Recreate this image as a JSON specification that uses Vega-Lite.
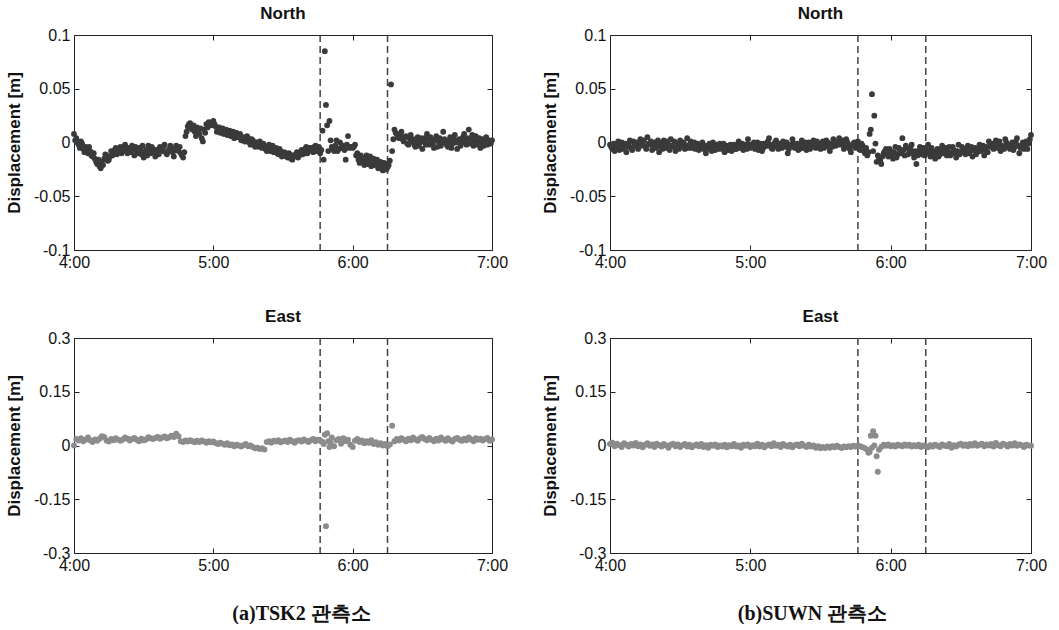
{
"$schema":"https://vega.github.io/schema/vega-lite/v6.json",
"background":"white",
"padding":{"left":5,"top":4,"right":10,"bottom":0},
"datasets":{
"events":[{"m":106},{"m":135}],
"tn":[{"m":0,"v":0.008},{"m":1,"v":0.004},{"m":2,"v":-0.002},{"m":3,"v":0.001},{"m":4,"v":-0.006},{"m":5,"v":-0.004},{"m":6,"v":-0.010},{"m":7,"v":-0.008},{"m":8,"v":-0.013},{"m":9,"v":-0.015},{"m":10,"v":-0.020},{"m":11,"v":-0.022},{"m":12,"v":-0.018},{"m":13,"v":-0.015},{"m":14,"v":-0.012},{"m":15,"v":-0.016},{"m":16,"v":-0.008},{"m":17,"v":-0.011},{"m":18,"v":-0.005},{"m":19,"v":-0.009},{"m":20,"v":-0.004},{"m":21,"v":-0.007},{"m":22,"v":-0.002},{"m":23,"v":-0.010},{"m":24,"v":-0.006},{"m":25,"v":-0.003},{"m":26,"v":-0.012},{"m":27,"v":-0.008},{"m":28,"v":-0.005},{"m":29,"v":-0.011},{"m":30,"v":-0.014},{"m":31,"v":-0.007},{"m":32,"v":-0.003},{"m":33,"v":-0.010},{"m":34,"v":-0.006},{"m":35,"v":-0.013},{"m":36,"v":-0.009},{"m":37,"v":-0.004},{"m":38,"v":-0.008},{"m":39,"v":-0.002},{"m":40,"v":-0.011},{"m":41,"v":-0.006},{"m":42,"v":-0.005},{"m":43,"v":-0.013},{"m":44,"v":-0.003},{"m":45,"v":-0.008},{"m":46,"v":-0.010},{"m":47,"v":-0.014},{"m":48,"v":0.006},{"m":49,"v":0.015},{"m":50,"v":0.018},{"m":51,"v":0.012},{"m":52,"v":0.010},{"m":53,"v":0.014},{"m":54,"v":0.008},{"m":55,"v":0.004},{"m":56,"v":0.012},{"m":57,"v":0.017},{"m":58,"v":0.019},{"m":59,"v":0.016},{"m":60,"v":0.020},{"m":61,"v":0.015},{"m":62,"v":0.012},{"m":63,"v":0.009},{"m":64,"v":0.013},{"m":65,"v":0.010},{"m":66,"v":0.007},{"m":67,"v":0.011},{"m":68,"v":0.008},{"m":69,"v":0.004},{"m":70,"v":0.009},{"m":71,"v":0.006},{"m":72,"v":0.002},{"m":73,"v":0.005},{"m":74,"v":0.001},{"m":75,"v":0.004},{"m":76,"v":-0.002},{"m":77,"v":0.002},{"m":78,"v":-0.004},{"m":79,"v":-0.001},{"m":80,"v":0.001},{"m":81,"v":-0.005},{"m":82,"v":-0.003},{"m":83,"v":-0.008},{"m":84,"v":-0.002},{"m":85,"v":-0.006},{"m":86,"v":-0.009},{"m":87,"v":-0.005},{"m":88,"v":-0.011},{"m":89,"v":-0.008},{"m":90,"v":-0.012},{"m":91,"v":-0.010},{"m":92,"v":-0.014},{"m":93,"v":-0.011},{"m":94,"v":-0.016},{"m":95,"v":-0.013},{"m":96,"v":-0.009},{"m":97,"v":-0.012},{"m":98,"v":-0.007},{"m":99,"v":-0.010},{"m":100,"v":-0.004},{"m":101,"v":-0.008},{"m":102,"v":-0.005},{"m":103,"v":-0.009},{"m":104,"v":-0.003},{"m":105,"v":-0.006},{"m":106,"v":-0.010},{"m":107,"v":0.011},{"m":107.5,"v":-0.016},{"m":108,"v":0.085},{"m":108.5,"v":0.035},{"m":109,"v":0.016},{"m":109.5,"v":-0.008},{"m":110,"v":0.020},{"m":111,"v":-0.004},{"m":112,"v":-0.008},{"m":113,"v":0.002},{"m":114,"v":-0.006},{"m":115,"v":-0.005},{"m":116,"v":-0.003},{"m":117,"v":-0.016},{"m":118,"v":0.006},{"m":119,"v":-0.004},{"m":120,"v":-0.005},{"m":121,"v":-0.002},{"m":122,"v":-0.010},{"m":123,"v":-0.019},{"m":124,"v":-0.014},{"m":125,"v":-0.021},{"m":126,"v":-0.012},{"m":127,"v":-0.017},{"m":128,"v":-0.022},{"m":129,"v":-0.015},{"m":130,"v":-0.019},{"m":131,"v":-0.024},{"m":132,"v":-0.018},{"m":133,"v":-0.026},{"m":134,"v":-0.020},{"m":135,"v":-0.023},{"m":136,"v":-0.017},{"m":136.5,"v":0.054},{"m":137,"v":-0.008},{"m":137.5,"v":0.003},{"m":138,"v":0.012},{"m":139,"v":0.008},{"m":140,"v":0.004},{"m":141,"v":0.010},{"m":142,"v":0.001},{"m":143,"v":0.006},{"m":144,"v":-0.002},{"m":145,"v":0.007},{"m":146,"v":0.003},{"m":147,"v":-0.004},{"m":148,"v":0.005},{"m":149,"v":0.000},{"m":150,"v":-0.006},{"m":151,"v":0.004},{"m":152,"v":0.008},{"m":153,"v":-0.002},{"m":154,"v":0.003},{"m":155,"v":-0.005},{"m":156,"v":0.006},{"m":157,"v":0.001},{"m":158,"v":-0.003},{"m":159,"v":0.010},{"m":160,"v":0.002},{"m":161,"v":-0.004},{"m":162,"v":0.005},{"m":163,"v":-0.001},{"m":164,"v":0.007},{"m":165,"v":-0.006},{"m":166,"v":0.003},{"m":167,"v":0.000},{"m":168,"v":0.008},{"m":169,"v":-0.002},{"m":170,"v":0.012},{"m":171,"v":0.004},{"m":172,"v":-0.003},{"m":173,"v":0.006},{"m":174,"v":0.001},{"m":175,"v":-0.005},{"m":176,"v":0.003},{"m":177,"v":0.000},{"m":178,"v":-0.002},{"m":179,"v":0.002},{"m":180,"v":0.002},
{"m":0.5,"v":0.002},{"m":1.5,"v":0.000},{"m":2.5,"v":-0.005},{"m":3.5,"v":-0.001},{"m":4.5,"v":-0.009},{"m":5.5,"v":-0.007},{"m":6.5,"v":-0.004},{"m":7.5,"v":-0.012},{"m":8.5,"v":-0.010},{"m":9.5,"v":-0.018},{"m":10.5,"v":-0.016},{"m":11.5,"v":-0.024},{"m":12.5,"v":-0.021},{"m":13.5,"v":-0.011},{"m":14.5,"v":-0.017},{"m":15.5,"v":-0.013},{"m":16.5,"v":-0.012},{"m":17.5,"v":-0.007},{"m":18.5,"v":-0.011},{"m":19.5,"v":-0.006},{"m":20.5,"v":-0.010},{"m":21.5,"v":-0.004},{"m":22.5,"v":-0.008},{"m":23.5,"v":-0.005},{"m":24.5,"v":-0.009},{"m":25.5,"v":-0.006},{"m":26.5,"v":-0.004},{"m":27.5,"v":-0.010},{"m":28.5,"v":-0.007},{"m":29.5,"v":-0.003},{"m":30.5,"v":-0.009},{"m":31.5,"v":-0.012},{"m":32.5,"v":-0.006},{"m":33.5,"v":-0.004},{"m":34.5,"v":-0.009},{"m":35.5,"v":-0.007},{"m":36.5,"v":-0.011},{"m":37.5,"v":-0.006},{"m":38.5,"v":-0.004},{"m":39.5,"v":-0.009},{"m":40.5,"v":-0.008},{"m":41.5,"v":-0.003},{"m":42.5,"v":-0.009},{"m":43.5,"v":-0.007},{"m":44.5,"v":-0.006},{"m":45.5,"v":-0.004},{"m":46.5,"v":-0.012},{"m":47.5,"v":-0.009},{"m":48.5,"v":0.010},{"m":49.5,"v":0.017},{"m":50.5,"v":0.013},{"m":51.5,"v":0.016},{"m":52.5,"v":0.006},{"m":53.5,"v":0.011},{"m":54.5,"v":0.013},{"m":55.5,"v":0.001},{"m":56.5,"v":0.009},{"m":57.5,"v":0.014},{"m":58.5,"v":0.018},{"m":59.5,"v":0.019},{"m":60.5,"v":0.017},{"m":61.5,"v":0.010},{"m":62.5,"v":0.014},{"m":63.5,"v":0.011},{"m":64.5,"v":0.008},{"m":65.5,"v":0.012},{"m":66.5,"v":0.009},{"m":67.5,"v":0.006},{"m":68.5,"v":0.010},{"m":69.5,"v":0.007},{"m":70.5,"v":0.005},{"m":71.5,"v":0.008},{"m":72.5,"v":0.004},{"m":73.5,"v":0.001},{"m":74.5,"v":0.006},{"m":75.5,"v":0.000},{"m":76.5,"v":0.003},{"m":77.5,"v":-0.002},{"m":78.5,"v":0.000},{"m":79.5,"v":-0.004},{"m":80.5,"v":-0.003},{"m":81.5,"v":-0.001},{"m":82.5,"v":-0.006},{"m":83.5,"v":-0.004},{"m":84.5,"v":-0.008},{"m":85.5,"v":-0.003},{"m":86.5,"v":-0.007},{"m":87.5,"v":-0.010},{"m":88.5,"v":-0.006},{"m":89.5,"v":-0.013},{"m":90.5,"v":-0.009},{"m":91.5,"v":-0.013},{"m":92.5,"v":-0.010},{"m":93.5,"v":-0.015},{"m":94.5,"v":-0.012},{"m":95.5,"v":-0.011},{"m":96.5,"v":-0.014},{"m":97.5,"v":-0.009},{"m":98.5,"v":-0.011},{"m":99.5,"v":-0.006},{"m":100.5,"v":-0.010},{"m":101.5,"v":-0.005},{"m":102.5,"v":-0.007},{"m":103.5,"v":-0.004},{"m":104.5,"v":-0.008},{"m":105.5,"v":-0.004},{"m":106.5,"v":-0.007},{"m":110.5,"v":0.002},{"m":111.5,"v":-0.006},{"m":112.5,"v":-0.003},{"m":113.5,"v":-0.008},{"m":114.5,"v":0.000},{"m":115.5,"v":-0.004},{"m":116.5,"v":-0.007},{"m":117.5,"v":-0.002},{"m":118.5,"v":-0.005},{"m":119.5,"v":-0.004},{"m":120.5,"v":-0.004},{"m":121.5,"v":-0.012},{"m":122.5,"v":-0.016},{"m":123.5,"v":-0.012},{"m":124.5,"v":-0.018},{"m":125.5,"v":-0.015},{"m":126.5,"v":-0.020},{"m":127.5,"v":-0.013},{"m":128.5,"v":-0.019},{"m":129.5,"v":-0.021},{"m":130.5,"v":-0.016},{"m":131.5,"v":-0.020},{"m":132.5,"v":-0.023},{"m":133.5,"v":-0.019},{"m":134.5,"v":-0.025},{"m":135.5,"v":-0.021},{"m":138.5,"v":0.009},{"m":139.5,"v":0.005},{"m":140.5,"v":0.007},{"m":141.5,"v":0.003},{"m":142.5,"v":0.005},{"m":143.5,"v":-0.001},{"m":144.5,"v":0.004},{"m":145.5,"v":0.001},{"m":146.5,"v":-0.002},{"m":147.5,"v":0.002},{"m":148.5,"v":-0.003},{"m":149.5,"v":0.004},{"m":150.5,"v":0.001},{"m":151.5,"v":-0.002},{"m":152.5,"v":0.003},{"m":153.5,"v":0.005},{"m":154.5,"v":-0.001},{"m":155.5,"v":0.002},{"m":156.5,"v":-0.004},{"m":157.5,"v":0.004},{"m":158.5,"v":0.000},{"m":159.5,"v":0.003},{"m":160.5,"v":-0.002},{"m":161.5,"v":0.001},{"m":162.5,"v":-0.005},{"m":163.5,"v":0.003},{"m":164.5,"v":0.000},{"m":165.5,"v":0.002},{"m":166.5,"v":-0.003},{"m":167.5,"v":0.005},{"m":168.5,"v":0.001},{"m":169.5,"v":0.004},{"m":170.5,"v":-0.001},{"m":171.5,"v":0.007},{"m":172.5,"v":0.001},{"m":173.5,"v":-0.002},{"m":174.5,"v":0.004},{"m":175.5,"v":0.000},{"m":176.5,"v":-0.003},{"m":177.5,"v":0.005},{"m":178.5,"v":0.001},{"m":179.5,"v":-0.001}],
"sn":[{"m":0,"v":-0.002},{"m":1,"v":-0.006},{"m":2,"v":-0.008},{"m":3,"v":-0.003},{"m":4,"v":-0.007},{"m":5,"v":0.000},{"m":6,"v":-0.004},{"m":7,"v":-0.009},{"m":8,"v":-0.002},{"m":9,"v":-0.005},{"m":10,"v":0.001},{"m":11,"v":-0.003},{"m":12,"v":-0.006},{"m":13,"v":0.003},{"m":14,"v":-0.001},{"m":15,"v":-0.004},{"m":16,"v":0.005},{"m":17,"v":-0.002},{"m":18,"v":-0.007},{"m":19,"v":0.000},{"m":20,"v":-0.003},{"m":21,"v":-0.009},{"m":22,"v":-0.001},{"m":23,"v":0.002},{"m":24,"v":-0.005},{"m":25,"v":-0.002},{"m":26,"v":0.003},{"m":27,"v":-0.004},{"m":28,"v":-0.008},{"m":29,"v":-0.001},{"m":30,"v":0.002},{"m":31,"v":-0.003},{"m":32,"v":-0.006},{"m":33,"v":0.004},{"m":34,"v":-0.002},{"m":35,"v":-0.005},{"m":36,"v":0.000},{"m":37,"v":-0.004},{"m":38,"v":-0.007},{"m":39,"v":-0.002},{"m":40,"v":-0.006},{"m":41,"v":-0.010},{"m":42,"v":-0.003},{"m":43,"v":-0.005},{"m":44,"v":0.000},{"m":45,"v":-0.007},{"m":46,"v":-0.004},{"m":47,"v":-0.001},{"m":48,"v":-0.006},{"m":49,"v":-0.009},{"m":50,"v":-0.003},{"m":51,"v":-0.005},{"m":52,"v":-0.008},{"m":53,"v":-0.002},{"m":54,"v":-0.006},{"m":55,"v":0.001},{"m":56,"v":-0.004},{"m":57,"v":-0.007},{"m":58,"v":-0.002},{"m":59,"v":0.003},{"m":60,"v":-0.005},{"m":61,"v":-0.002},{"m":62,"v":-0.006},{"m":63,"v":0.000},{"m":64,"v":-0.004},{"m":65,"v":-0.008},{"m":66,"v":-0.001},{"m":67,"v":-0.003},{"m":68,"v":0.004},{"m":69,"v":-0.005},{"m":70,"v":-0.002},{"m":71,"v":0.002},{"m":72,"v":-0.006},{"m":73,"v":-0.003},{"m":74,"v":0.001},{"m":75,"v":-0.004},{"m":76,"v":-0.010},{"m":77,"v":-0.002},{"m":78,"v":0.003},{"m":79,"v":-0.005},{"m":80,"v":-0.001},{"m":81,"v":-0.006},{"m":82,"v":0.002},{"m":83,"v":-0.003},{"m":84,"v":-0.007},{"m":85,"v":0.000},{"m":86,"v":-0.004},{"m":87,"v":0.002},{"m":88,"v":-0.005},{"m":89,"v":-0.001},{"m":90,"v":-0.006},{"m":91,"v":0.001},{"m":92,"v":-0.003},{"m":93,"v":0.000},{"m":94,"v":-0.008},{"m":95,"v":-0.004},{"m":96,"v":0.001},{"m":97,"v":-0.002},{"m":98,"v":0.004},{"m":99,"v":0.000},{"m":100,"v":-0.006},{"m":101,"v":0.003},{"m":102,"v":-0.004},{"m":103,"v":-0.009},{"m":104,"v":-0.001},{"m":105,"v":-0.005},{"m":106,"v":0.001},{"m":107,"v":-0.007},{"m":108,"v":-0.003},{"m":109,"v":-0.010},{"m":110,"v":-0.012},{"m":111,"v":0.008},{"m":111.5,"v":0.012},{"m":112,"v":0.045},{"m":112.5,"v":-0.008},{"m":113,"v":0.025},{"m":113.5,"v":-0.001},{"m":114,"v":-0.018},{"m":115,"v":-0.014},{"m":116,"v":-0.020},{"m":117,"v":-0.010},{"m":118,"v":-0.006},{"m":119,"v":-0.013},{"m":120,"v":-0.008},{"m":121,"v":-0.015},{"m":122,"v":-0.004},{"m":123,"v":-0.011},{"m":124,"v":-0.007},{"m":125,"v":0.004},{"m":126,"v":-0.012},{"m":127,"v":-0.005},{"m":128,"v":-0.009},{"m":129,"v":-0.002},{"m":130,"v":-0.014},{"m":131,"v":-0.020},{"m":132,"v":-0.008},{"m":133,"v":-0.011},{"m":134,"v":-0.005},{"m":135,"v":-0.010},{"m":136,"v":-0.002},{"m":137,"v":-0.013},{"m":138,"v":-0.008},{"m":139,"v":-0.015},{"m":140,"v":-0.006},{"m":141,"v":-0.011},{"m":142,"v":-0.003},{"m":143,"v":-0.009},{"m":144,"v":-0.012},{"m":145,"v":-0.004},{"m":146,"v":-0.010},{"m":147,"v":-0.007},{"m":148,"v":-0.014},{"m":149,"v":-0.002},{"m":150,"v":-0.009},{"m":151,"v":-0.006},{"m":152,"v":-0.011},{"m":153,"v":-0.003},{"m":154,"v":-0.008},{"m":155,"v":-0.013},{"m":156,"v":-0.005},{"m":157,"v":-0.009},{"m":158,"v":-0.002},{"m":159,"v":-0.007},{"m":160,"v":-0.012},{"m":161,"v":-0.004},{"m":162,"v":0.001},{"m":163,"v":-0.003},{"m":164,"v":-0.006},{"m":165,"v":0.002},{"m":166,"v":-0.001},{"m":167,"v":-0.008},{"m":168,"v":-0.004},{"m":169,"v":0.003},{"m":170,"v":-0.002},{"m":171,"v":-0.006},{"m":172,"v":0.000},{"m":173,"v":-0.004},{"m":174,"v":0.004},{"m":175,"v":-0.010},{"m":176,"v":-0.003},{"m":177,"v":-0.006},{"m":178,"v":0.001},{"m":179,"v":-0.001},{"m":180,"v":0.007},
{"m":0.5,"v":-0.004},{"m":1.5,"v":-0.001},{"m":2.5,"v":-0.005},{"m":3.5,"v":0.001},{"m":4.5,"v":-0.003},{"m":5.5,"v":-0.006},{"m":6.5,"v":-0.001},{"m":7.5,"v":-0.004},{"m":8.5,"v":0.002},{"m":9.5,"v":-0.007},{"m":10.5,"v":-0.002},{"m":11.5,"v":0.000},{"m":12.5,"v":-0.004},{"m":13.5,"v":-0.002},{"m":14.5,"v":0.002},{"m":15.5,"v":-0.006},{"m":16.5,"v":-0.001},{"m":17.5,"v":0.001},{"m":18.5,"v":-0.003},{"m":19.5,"v":-0.005},{"m":20.5,"v":0.002},{"m":21.5,"v":-0.004},{"m":22.5,"v":-0.006},{"m":23.5,"v":-0.002},{"m":24.5,"v":0.001},{"m":25.5,"v":-0.007},{"m":26.5,"v":-0.003},{"m":27.5,"v":0.001},{"m":28.5,"v":-0.004},{"m":29.5,"v":-0.006},{"m":30.5,"v":-0.002},{"m":31.5,"v":0.000},{"m":32.5,"v":-0.003},{"m":33.5,"v":-0.005},{"m":34.5,"v":0.001},{"m":35.5,"v":-0.002},{"m":36.5,"v":-0.006},{"m":37.5,"v":-0.001},{"m":38.5,"v":-0.004},{"m":39.5,"v":0.000},{"m":40.5,"v":-0.003},{"m":41.5,"v":-0.006},{"m":42.5,"v":-0.001},{"m":43.5,"v":-0.008},{"m":44.5,"v":-0.004},{"m":45.5,"v":-0.002},{"m":46.5,"v":-0.006},{"m":47.5,"v":-0.003},{"m":48.5,"v":-0.001},{"m":49.5,"v":-0.005},{"m":50.5,"v":-0.007},{"m":51.5,"v":-0.002},{"m":52.5,"v":-0.004},{"m":53.5,"v":-0.006},{"m":54.5,"v":-0.003},{"m":55.5,"v":-0.005},{"m":56.5,"v":-0.001},{"m":57.5,"v":-0.004},{"m":58.5,"v":-0.006},{"m":59.5,"v":-0.002},{"m":60.5,"v":-0.003},{"m":61.5,"v":0.000},{"m":62.5,"v":-0.004},{"m":63.5,"v":-0.007},{"m":64.5,"v":-0.001},{"m":65.5,"v":-0.005},{"m":66.5,"v":-0.003},{"m":67.5,"v":0.001},{"m":68.5,"v":-0.002},{"m":69.5,"v":-0.006},{"m":70.5,"v":0.000},{"m":71.5,"v":-0.004},{"m":72.5,"v":-0.001},{"m":73.5,"v":-0.005},{"m":74.5,"v":-0.002},{"m":75.5,"v":0.000},{"m":76.5,"v":-0.006},{"m":77.5,"v":-0.003},{"m":78.5,"v":-0.001},{"m":79.5,"v":-0.004},{"m":80.5,"v":-0.007},{"m":81.5,"v":-0.002},{"m":82.5,"v":-0.005},{"m":83.5,"v":0.000},{"m":84.5,"v":-0.003},{"m":85.5,"v":-0.006},{"m":86.5,"v":-0.001},{"m":87.5,"v":-0.004},{"m":88.5,"v":0.001},{"m":89.5,"v":-0.003},{"m":90.5,"v":-0.002},{"m":91.5,"v":-0.005},{"m":92.5,"v":0.002},{"m":93.5,"v":-0.004},{"m":94.5,"v":-0.001},{"m":95.5,"v":0.003},{"m":96.5,"v":-0.003},{"m":97.5,"v":0.000},{"m":98.5,"v":-0.002},{"m":99.5,"v":0.002},{"m":100.5,"v":-0.003},{"m":101.5,"v":0.000},{"m":102.5,"v":-0.006},{"m":103.5,"v":-0.003},{"m":104.5,"v":0.000},{"m":105.5,"v":-0.002},{"m":106.5,"v":-0.004},{"m":107.5,"v":-0.001},{"m":108.5,"v":-0.008},{"m":109.5,"v":-0.005},{"m":110.5,"v":-0.009},{"m":114.5,"v":-0.012},{"m":115.5,"v":-0.017},{"m":116.5,"v":-0.013},{"m":117.5,"v":-0.008},{"m":118.5,"v":-0.011},{"m":119.5,"v":-0.006},{"m":120.5,"v":-0.012},{"m":121.5,"v":-0.009},{"m":122.5,"v":-0.014},{"m":123.5,"v":-0.005},{"m":124.5,"v":-0.010},{"m":125.5,"v":-0.007},{"m":126.5,"v":-0.003},{"m":127.5,"v":-0.011},{"m":128.5,"v":-0.006},{"m":129.5,"v":-0.010},{"m":130.5,"v":-0.008},{"m":131.5,"v":-0.012},{"m":132.5,"v":-0.004},{"m":133.5,"v":-0.008},{"m":134.5,"v":-0.012},{"m":135.5,"v":-0.007},{"m":136.5,"v":-0.010},{"m":137.5,"v":-0.005},{"m":138.5,"v":-0.012},{"m":139.5,"v":-0.009},{"m":140.5,"v":-0.013},{"m":141.5,"v":-0.007},{"m":142.5,"v":-0.010},{"m":143.5,"v":-0.005},{"m":144.5,"v":-0.008},{"m":145.5,"v":-0.012},{"m":146.5,"v":-0.004},{"m":147.5,"v":-0.010},{"m":148.5,"v":-0.008},{"m":149.5,"v":-0.011},{"m":150.5,"v":-0.004},{"m":151.5,"v":-0.009},{"m":152.5,"v":-0.006},{"m":153.5,"v":-0.010},{"m":154.5,"v":-0.004},{"m":155.5,"v":-0.007},{"m":156.5,"v":-0.011},{"m":157.5,"v":-0.005},{"m":158.5,"v":-0.008},{"m":159.5,"v":-0.003},{"m":160.5,"v":-0.007},{"m":161.5,"v":-0.009},{"m":162.5,"v":-0.004},{"m":163.5,"v":-0.001},{"m":164.5,"v":-0.002},{"m":165.5,"v":-0.005},{"m":166.5,"v":0.001},{"m":167.5,"v":-0.003},{"m":168.5,"v":-0.006},{"m":169.5,"v":0.000},{"m":170.5,"v":-0.004},{"m":171.5,"v":-0.002},{"m":172.5,"v":-0.007},{"m":173.5,"v":0.001},{"m":174.5,"v":-0.003},{"m":175.5,"v":-0.005},{"m":176.5,"v":0.000},{"m":177.5,"v":-0.003},{"m":178.5,"v":-0.006},{"m":179.5,"v":0.003}],
"te":[{"m":0,"v":0.000},{"m":1,"v":0.018},{"m":2,"v":0.014},{"m":3,"v":0.020},{"m":4,"v":0.012},{"m":5,"v":0.016},{"m":6,"v":0.022},{"m":7,"v":0.015},{"m":8,"v":0.010},{"m":9,"v":0.017},{"m":10,"v":0.013},{"m":11,"v":0.019},{"m":12,"v":0.026},{"m":13,"v":0.024},{"m":14,"v":0.014},{"m":15,"v":0.011},{"m":16,"v":0.018},{"m":17,"v":0.015},{"m":18,"v":0.020},{"m":19,"v":0.016},{"m":20,"v":0.013},{"m":21,"v":0.017},{"m":22,"v":0.022},{"m":23,"v":0.019},{"m":24,"v":0.014},{"m":25,"v":0.018},{"m":26,"v":0.021},{"m":27,"v":0.016},{"m":28,"v":0.012},{"m":29,"v":0.019},{"m":30,"v":0.015},{"m":31,"v":0.017},{"m":32,"v":0.023},{"m":33,"v":0.020},{"m":34,"v":0.018},{"m":35,"v":0.021},{"m":36,"v":0.024},{"m":37,"v":0.019},{"m":38,"v":0.022},{"m":39,"v":0.025},{"m":40,"v":0.020},{"m":41,"v":0.023},{"m":42,"v":0.027},{"m":43,"v":0.024},{"m":44,"v":0.033},{"m":45,"v":0.026},{"m":46,"v":0.012},{"m":47,"v":0.010},{"m":48,"v":0.014},{"m":49,"v":0.011},{"m":50,"v":0.015},{"m":51,"v":0.012},{"m":52,"v":0.009},{"m":53,"v":0.013},{"m":54,"v":0.010},{"m":55,"v":0.014},{"m":56,"v":0.011},{"m":57,"v":0.008},{"m":58,"v":0.012},{"m":59,"v":0.009},{"m":60,"v":0.011},{"m":61,"v":0.007},{"m":62,"v":0.004},{"m":63,"v":0.008},{"m":64,"v":0.005},{"m":65,"v":0.002},{"m":66,"v":0.006},{"m":67,"v":0.001},{"m":68,"v":0.003},{"m":69,"v":-0.002},{"m":70,"v":0.002},{"m":71,"v":0.000},{"m":72,"v":-0.003},{"m":73,"v":0.001},{"m":74,"v":0.004},{"m":75,"v":-0.002},{"m":76,"v":0.000},{"m":77,"v":-0.004},{"m":78,"v":-0.008},{"m":79,"v":-0.006},{"m":80,"v":-0.010},{"m":81,"v":-0.008},{"m":82,"v":-0.011},{"m":83,"v":0.010},{"m":84,"v":0.012},{"m":85,"v":0.008},{"m":86,"v":0.013},{"m":87,"v":0.011},{"m":88,"v":0.015},{"m":89,"v":0.009},{"m":90,"v":0.012},{"m":91,"v":0.014},{"m":92,"v":0.010},{"m":93,"v":0.016},{"m":94,"v":0.012},{"m":95,"v":0.008},{"m":96,"v":0.013},{"m":97,"v":0.015},{"m":98,"v":0.011},{"m":99,"v":0.017},{"m":100,"v":0.013},{"m":101,"v":0.010},{"m":102,"v":0.015},{"m":103,"v":0.018},{"m":104,"v":0.012},{"m":105,"v":0.016},{"m":106,"v":0.014},{"m":107,"v":0.010},{"m":107.5,"v":0.004},{"m":108,"v":0.030},{"m":108.5,"v":-0.225},{"m":109,"v":0.034},{"m":109.5,"v":0.012},{"m":110,"v":-0.004},{"m":110.5,"v":0.008},{"m":111,"v":0.022},{"m":112,"v":-0.002},{"m":113,"v":0.015},{"m":114,"v":0.018},{"m":115,"v":0.005},{"m":116,"v":0.020},{"m":117,"v":0.012},{"m":118,"v":0.016},{"m":119,"v":0.002},{"m":120,"v":-0.004},{"m":121,"v":0.013},{"m":122,"v":0.018},{"m":123,"v":0.010},{"m":124,"v":0.014},{"m":125,"v":0.006},{"m":126,"v":0.012},{"m":127,"v":0.008},{"m":128,"v":0.015},{"m":129,"v":0.004},{"m":130,"v":0.009},{"m":131,"v":0.002},{"m":132,"v":0.006},{"m":133,"v":0.000},{"m":134,"v":0.004},{"m":135,"v":-0.002},{"m":136,"v":0.003},{"m":137,"v":0.055},{"m":138,"v":0.012},{"m":139,"v":0.018},{"m":140,"v":0.014},{"m":141,"v":0.020},{"m":142,"v":0.016},{"m":143,"v":0.012},{"m":144,"v":0.019},{"m":145,"v":0.015},{"m":146,"v":0.022},{"m":147,"v":0.017},{"m":148,"v":0.013},{"m":149,"v":0.020},{"m":150,"v":0.024},{"m":151,"v":0.018},{"m":152,"v":0.015},{"m":153,"v":0.021},{"m":154,"v":0.016},{"m":155,"v":0.012},{"m":156,"v":0.019},{"m":157,"v":0.014},{"m":158,"v":0.022},{"m":159,"v":0.017},{"m":160,"v":0.013},{"m":161,"v":0.020},{"m":162,"v":0.015},{"m":163,"v":0.011},{"m":164,"v":0.018},{"m":165,"v":0.021},{"m":166,"v":0.016},{"m":167,"v":0.013},{"m":168,"v":0.019},{"m":169,"v":0.015},{"m":170,"v":0.022},{"m":171,"v":0.017},{"m":172,"v":0.012},{"m":173,"v":0.020},{"m":174,"v":0.016},{"m":175,"v":0.019},{"m":176,"v":0.014},{"m":177,"v":0.018},{"m":178,"v":0.021},{"m":179,"v":0.013},{"m":180,"v":0.017}],
"se":[{"m":0,"v":0.004},{"m":1,"v":0.008},{"m":2,"v":-0.002},{"m":3,"v":0.005},{"m":4,"v":0.001},{"m":5,"v":-0.004},{"m":6,"v":0.006},{"m":7,"v":0.002},{"m":8,"v":-0.003},{"m":9,"v":0.004},{"m":10,"v":0.000},{"m":11,"v":0.007},{"m":12,"v":-0.002},{"m":13,"v":0.003},{"m":14,"v":-0.005},{"m":15,"v":0.002},{"m":16,"v":0.006},{"m":17,"v":-0.001},{"m":18,"v":0.003},{"m":19,"v":-0.004},{"m":20,"v":0.005},{"m":21,"v":0.001},{"m":22,"v":-0.003},{"m":23,"v":0.004},{"m":24,"v":0.000},{"m":25,"v":-0.006},{"m":26,"v":0.002},{"m":27,"v":0.005},{"m":28,"v":-0.002},{"m":29,"v":0.003},{"m":30,"v":-0.004},{"m":31,"v":0.001},{"m":32,"v":0.004},{"m":33,"v":-0.003},{"m":34,"v":0.002},{"m":35,"v":-0.005},{"m":36,"v":0.000},{"m":37,"v":0.003},{"m":38,"v":-0.002},{"m":39,"v":0.004},{"m":40,"v":-0.004},{"m":41,"v":0.001},{"m":42,"v":-0.006},{"m":43,"v":0.002},{"m":44,"v":-0.001},{"m":45,"v":0.003},{"m":46,"v":-0.004},{"m":47,"v":0.000},{"m":48,"v":-0.003},{"m":49,"v":0.002},{"m":50,"v":-0.005},{"m":51,"v":0.001},{"m":52,"v":-0.002},{"m":53,"v":0.004},{"m":54,"v":-0.003},{"m":55,"v":0.000},{"m":56,"v":-0.006},{"m":57,"v":0.002},{"m":58,"v":-0.001},{"m":59,"v":0.003},{"m":60,"v":-0.004},{"m":61,"v":0.001},{"m":62,"v":-0.002},{"m":63,"v":0.005},{"m":64,"v":-0.003},{"m":65,"v":0.002},{"m":66,"v":-0.005},{"m":67,"v":0.000},{"m":68,"v":0.003},{"m":69,"v":-0.002},{"m":70,"v":0.006},{"m":71,"v":-0.001},{"m":72,"v":0.002},{"m":73,"v":-0.004},{"m":74,"v":0.004},{"m":75,"v":0.000},{"m":76,"v":-0.003},{"m":77,"v":0.002},{"m":78,"v":-0.005},{"m":79,"v":0.001},{"m":80,"v":0.003},{"m":81,"v":-0.002},{"m":82,"v":0.005},{"m":83,"v":-0.001},{"m":84,"v":-0.004},{"m":85,"v":0.002},{"m":86,"v":-0.003},{"m":87,"v":0.000},{"m":88,"v":-0.006},{"m":89,"v":-0.002},{"m":90,"v":-0.008},{"m":91,"v":-0.004},{"m":92,"v":-0.007},{"m":93,"v":-0.003},{"m":94,"v":-0.006},{"m":95,"v":-0.002},{"m":96,"v":-0.005},{"m":97,"v":-0.001},{"m":98,"v":-0.004},{"m":99,"v":-0.007},{"m":100,"v":-0.003},{"m":101,"v":-0.005},{"m":102,"v":-0.002},{"m":103,"v":-0.004},{"m":104,"v":-0.001},{"m":105,"v":-0.003},{"m":106,"v":0.000},{"m":107,"v":-0.002},{"m":108,"v":-0.005},{"m":109,"v":-0.008},{"m":110,"v":-0.012},{"m":110.5,"v":-0.020},{"m":111,"v":-0.018},{"m":111.5,"v":0.027},{"m":112,"v":-0.006},{"m":112.5,"v":0.040},{"m":113,"v":0.000},{"m":113.5,"v":0.027},{"m":114,"v":-0.030},{"m":114.5,"v":-0.073},{"m":115,"v":-0.012},{"m":116,"v":-0.004},{"m":117,"v":0.002},{"m":118,"v":-0.001},{"m":119,"v":0.003},{"m":120,"v":-0.002},{"m":121,"v":0.001},{"m":122,"v":-0.003},{"m":123,"v":0.002},{"m":124,"v":0.000},{"m":125,"v":-0.002},{"m":126,"v":0.003},{"m":127,"v":-0.001},{"m":128,"v":0.002},{"m":129,"v":-0.003},{"m":130,"v":0.001},{"m":131,"v":-0.002},{"m":132,"v":0.002},{"m":133,"v":-0.004},{"m":134,"v":0.000},{"m":135,"v":-0.002},{"m":136,"v":-0.005},{"m":137,"v":0.001},{"m":138,"v":-0.003},{"m":139,"v":0.002},{"m":140,"v":-0.001},{"m":141,"v":-0.004},{"m":142,"v":0.003},{"m":143,"v":0.000},{"m":144,"v":-0.002},{"m":145,"v":0.004},{"m":146,"v":-0.006},{"m":147,"v":0.001},{"m":148,"v":-0.003},{"m":149,"v":0.002},{"m":150,"v":0.005},{"m":151,"v":-0.001},{"m":152,"v":0.003},{"m":153,"v":-0.002},{"m":154,"v":0.004},{"m":155,"v":0.000},{"m":156,"v":0.006},{"m":157,"v":-0.001},{"m":158,"v":0.002},{"m":159,"v":0.005},{"m":160,"v":-0.002},{"m":161,"v":0.003},{"m":162,"v":0.000},{"m":163,"v":0.004},{"m":164,"v":-0.003},{"m":165,"v":0.007},{"m":166,"v":0.001},{"m":167,"v":-0.002},{"m":168,"v":0.005},{"m":169,"v":0.002},{"m":170,"v":-0.003},{"m":171,"v":0.004},{"m":172,"v":0.000},{"m":173,"v":0.006},{"m":174,"v":-0.001},{"m":175,"v":0.003},{"m":176,"v":0.001},{"m":177,"v":-0.004},{"m":178,"v":0.002},{"m":179,"v":0.000},{"m":180,"v":-0.001}]
},
"columns":2,
"spacing":{"row":36,"column":32},
"concat":[
{"width":418,"height":215,"title":{"text":"North","anchor":"middle","fontSize":17,"fontWeight":"bold","font":"Liberation Sans","color":"#111","offset":4},
"layer":[
{"data":{"name":"events"},"mark":{"type":"rule","strokeDash":[7,4],"color":"#444","strokeWidth":1.5},
"encoding":{"x":{"field":"m","type":"quantitative","scale":{"domain":[0,180]},"axis":{"orient":"top","values":[0,60,120,180],"labels":false,"title":null}}}},
{"data":{"name":"tn"},"mark":{"type":"circle","size":34,"color":"#3a3a3a","opacity":1},
"encoding":{"x":{"field":"m","type":"quantitative","scale":{"domain":[0,180]},"axis":{"orient":"bottom","values":[0,60,120,180],"labelExpr":"(4 + datum.value/60) + ':00'","title":null}},
"y":{"field":"v","type":"quantitative","scale":{"domain":[-0.1,0.1]},"axis":{"orient":"left","values":[-0.1,-0.05,0,0.05,0.1],"labelExpr":"'' + datum.value","title":"Displacement [m]"}}}},
{"data":{"name":"tn"},"mark":{"type":"circle","opacity":0},
"encoding":{"y":{"field":"v","type":"quantitative","scale":{"domain":[-0.1,0.1]},"axis":{"orient":"right","values":[-0.1,-0.05,0,0.05,0.1],"labels":false,"title":null}}}}
],
"resolve":{"axis":{"x":"independent","y":"independent"}}},
{"width":421,"height":215,"title":{"text":"North","anchor":"middle","fontSize":17,"fontWeight":"bold","font":"Liberation Sans","color":"#111","offset":4},
"layer":[
{"data":{"name":"events"},"mark":{"type":"rule","strokeDash":[7,4],"color":"#444","strokeWidth":1.5},
"encoding":{"x":{"field":"m","type":"quantitative","scale":{"domain":[0,180]},"axis":{"orient":"top","values":[0,60,120,180],"labels":false,"title":null}}}},
{"data":{"name":"sn"},"mark":{"type":"circle","size":34,"color":"#3a3a3a","opacity":1},
"encoding":{"x":{"field":"m","type":"quantitative","scale":{"domain":[0,180]},"axis":{"orient":"bottom","values":[0,60,120,180],"labelExpr":"(4 + datum.value/60) + ':00'","title":null}},
"y":{"field":"v","type":"quantitative","scale":{"domain":[-0.1,0.1]},"axis":{"orient":"left","values":[-0.1,-0.05,0,0.05,0.1],"labelExpr":"'' + datum.value","title":"Displacement [m]"}}}},
{"data":{"name":"sn"},"mark":{"type":"circle","opacity":0},
"encoding":{"y":{"field":"v","type":"quantitative","scale":{"domain":[-0.1,0.1]},"axis":{"orient":"right","values":[-0.1,-0.05,0,0.05,0.1],"labels":false,"title":null}}}}
],
"resolve":{"axis":{"x":"independent","y":"independent"}}},
{"width":418,"height":215,"title":{"text":"East","anchor":"middle","fontSize":17,"fontWeight":"bold","font":"Liberation Sans","color":"#111","offset":4},
"layer":[
{"data":{"name":"events"},"mark":{"type":"rule","strokeDash":[7,4],"color":"#444","strokeWidth":1.5},
"encoding":{"x":{"field":"m","type":"quantitative","scale":{"domain":[0,180]},"axis":{"orient":"top","values":[0,60,120,180],"labels":false,"title":null}}}},
{"data":{"name":"te"},"mark":{"type":"circle","size":36,"color":"#8c8c8c","opacity":1},
"encoding":{"x":{"field":"m","type":"quantitative","scale":{"domain":[0,180]},"axis":{"orient":"bottom","values":[0,60,120,180],"labelExpr":"(4 + datum.value/60) + ':00'","title":"(a)TSK2 관측소","titleFont":"Liberation Serif","titleFontWeight":"bold","titleFontSize":20,"titlePadding":30,"titleX":227,"titleAlign":"center"}},
"y":{"field":"v","type":"quantitative","scale":{"domain":[-0.3,0.3]},"axis":{"orient":"left","values":[-0.3,-0.15,0,0.15,0.3],"labelExpr":"'' + datum.value","title":"Displacement [m]"}}}},
{"data":{"name":"te"},"mark":{"type":"circle","opacity":0},
"encoding":{"y":{"field":"v","type":"quantitative","scale":{"domain":[-0.3,0.3]},"axis":{"orient":"right","values":[-0.3,-0.15,0,0.15,0.3],"labels":false,"title":null}}}}
],
"resolve":{"axis":{"x":"independent","y":"independent"}}},
{"width":421,"height":215,"title":{"text":"East","anchor":"middle","fontSize":17,"fontWeight":"bold","font":"Liberation Sans","color":"#111","offset":4},
"layer":[
{"data":{"name":"events"},"mark":{"type":"rule","strokeDash":[7,4],"color":"#444","strokeWidth":1.5},
"encoding":{"x":{"field":"m","type":"quantitative","scale":{"domain":[0,180]},"axis":{"orient":"top","values":[0,60,120,180],"labels":false,"title":null}}}},
{"data":{"name":"se"},"mark":{"type":"circle","size":36,"color":"#8c8c8c","opacity":1},
"encoding":{"x":{"field":"m","type":"quantitative","scale":{"domain":[0,180]},"axis":{"orient":"bottom","values":[0,60,120,180],"labelExpr":"(4 + datum.value/60) + ':00'","title":"(b)SUWN 관측소","titleFont":"Liberation Serif","titleFontWeight":"bold","titleFontSize":20,"titlePadding":30,"titleX":202,"titleAlign":"center"}},
"y":{"field":"v","type":"quantitative","scale":{"domain":[-0.3,0.3]},"axis":{"orient":"left","values":[-0.3,-0.15,0,0.15,0.3],"labelExpr":"'' + datum.value","title":"Displacement [m]"}}}},
{"data":{"name":"se"},"mark":{"type":"circle","opacity":0},
"encoding":{"y":{"field":"v","type":"quantitative","scale":{"domain":[-0.3,0.3]},"axis":{"orient":"right","values":[-0.3,-0.15,0,0.15,0.3],"labels":false,"title":null}}}}
],
"resolve":{"axis":{"x":"independent","y":"independent"}}}
],
"config":{
"font":"Liberation Sans",
"view":{"stroke":"#222","strokeWidth":1},
"axis":{"grid":false,"domain":false,"tickSize":-5,"tickColor":"#222","tickWidth":1,"labelPadding":9,"labelFont":"Liberation Sans","labelFontSize":16,"labelColor":"#111","labelFlush":false,"labelOverlap":false,"labelBound":false,"titleFont":"Liberation Sans","titleFontSize":17,"titleFontWeight":"bold","titleColor":"#111","titlePadding":10}
}
}
